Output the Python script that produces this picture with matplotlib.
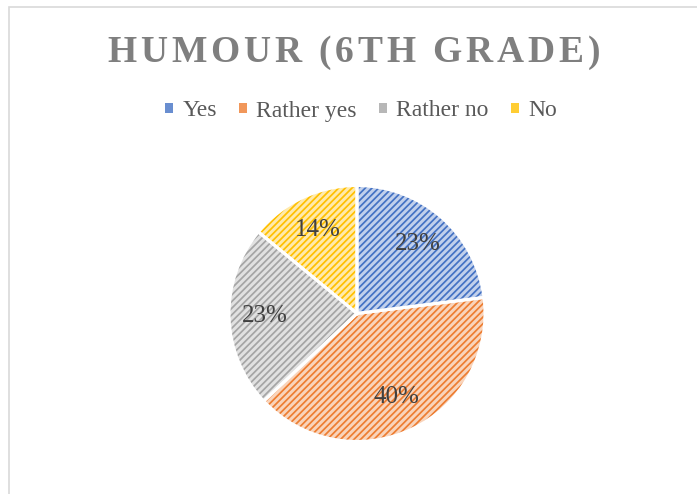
import matplotlib
matplotlib.use('Agg')
import matplotlib.pyplot as plt
from matplotlib.patches import Patch, Rectangle
from matplotlib.colors import to_rgb

labels = ['Yes', 'Rather yes', 'Rather no', 'No']
values = [23, 40, 23, 14]
colors = ['#4472C4', '#ED7D31', '#A5A5A5', '#FFC000']
title = 'HUMOUR (6TH GRADE)'

plt.rcParams['font.family'] = ['Liberation Serif', 'DejaVu Serif']
plt.rcParams['hatch.linewidth'] = 1.25

W, H = 697, 494
fig = plt.figure(figsize=(W / 100, H / 100), dpi=100)

def tint(c, k=0.33):
    r, g, b = to_rgb(c)
    return (1 - k + k * r, 1 - k + k * g, 1 - k + k * b)

faces = [tint(c) for c in colors]

# chart frame (only left and top edges visible)
fig.add_artist(Rectangle((9 / W, -0.1), 1.2, (494 - 7) / H + 0.1, transform=fig.transFigure,
                         fill=False, edgecolor='#D9D9D9', linewidth=1.2))

# pie
cx, cy, r = 357, 313.5, 128
ax = fig.add_axes([(cx - r) / W, (H - cy - r) / H, 2 * r / W, 2 * r / H])
wedges, _ = ax.pie(values, colors=faces, startangle=90, counterclock=False,
                   wedgeprops=dict(linewidth=0, hatch='/////'))
for w, c in zip(wedges, colors):
    w.set_edgecolor(c)
    w.set_linewidth(0)
ax.pie(values, colors=['none'] * 4, startangle=90, counterclock=False,
       labels=['%d%%' % v for v in values], labeldistance=0.72,
       textprops=dict(fontsize=18, color='#404040', ha='center', va='center'),
       wedgeprops=dict(linewidth=2.2, edgecolor='white', fill=False))
ax.set_xlim(-1, 1)
ax.set_ylim(-1, 1)
ax.axis('off')

# title with letter spacing
renderer = fig.canvas.get_renderer()
tprops = dict(fontsize=27, fontweight='bold', color='#7F7F7F')
def tw(s):
    t = fig.text(0, 0, s, **tprops)
    w = t.get_window_extent(renderer).width
    t.remove()
    return w
href = tw('H')
offs = [tw(title[:i] + 'H') - href if i > 0 else 0 for i in range(len(title))]
total = 493
sp = (total - tw(title)) / (len(title) - 1)
x0 = 353.5 - total / 2
for i, ch in enumerate(title):
    if ch == ' ':
        continue
    fig.text((x0 + offs[i] + sp * i) / W, (H - 62) / H, ch, ha='left', va='baseline', **tprops)

# legend
handles = [Patch(facecolor=tint(c, 0.8), edgecolor=c, linewidth=0) for c in colors]
fig.legend(handles, labels, loc='center', bbox_to_anchor=(361 / W, (H - 111) / H), ncol=4,
           frameon=False, fontsize=17, labelcolor='#595959', handlelength=0.32, handleheight=0.32,
           handletextpad=0.4, columnspacing=0.95, borderpad=0)

fig.savefig('out.png', dpi=100)
